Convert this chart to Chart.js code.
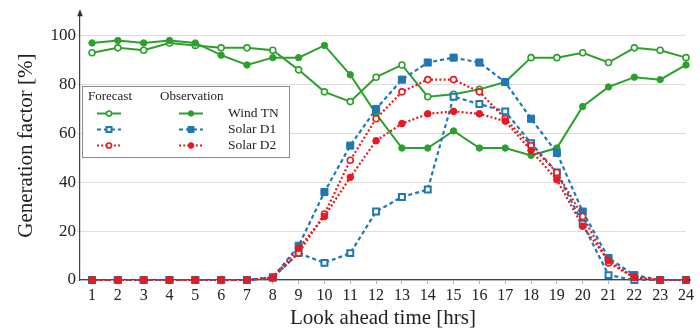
<!DOCTYPE html>
<html><head><meta charset="utf-8">
<script src="https://cdn.jsdelivr.net/npm/chart.js@4.4.1/dist/chart.umd.min.js"></script>
<style>html,body{margin:0;padding:0;background:#fff;}</style>
</head><body>
<canvas id="c" width="700" height="331" style="display:block;width:700px;height:331px"></canvas>
<script>
// ---- data ----
const hours = [1,2,3,4,5,6,7,8,9,10,11,12,13,14,15,16,17,18,19,20,21,22,23,24];
const windFc    = [93,95,94,97,96,95,95,94,86,77,73,83,88,75,76,78,81,91,91,93,89,95,94,91];
const windObs   = [97,98,97,98,97,92,88,91,91,96,84,68,54,54,61,54,54,51,54,71,79,83,82,88];
const solarD1Fc = [0,0,0,0,0,0,0,1,11,7,11,28,34,37,75,72,69,56,44,23,2,0,0,0];
const solarD1Obs= [0,0,0,0,0,0,0,1,14,36,55,70,82,89,91,89,81,66,52,28,9,2,0,0];
const solarD2Fc = [0,0,0,0,0,0,0,1,11,27,49,66,77,82,82,77,66,55,44,26,7,1,0,0];
const solarD2Obs= [0,0,0,0,0,0,0,1,13,26,42,57,64,68,69,68,65,53,41,22,8,1,0,0];
const yTickValues = [0,20,40,60,80,100];
const seriesNames = ['Wind TN','Solar D1','Solar D2'];
const legendHeaders = ['Forecast','Observation'];
const xTitle = 'Look ahead time [hrs]';
const yTitle = 'Generation factor [%]';

const GREEN='#2ca02c', BLUE='#1f77b4', RED='#e8191f';
const SERIF = "'Liberation Serif','Times New Roman',serif";
const TXT = '#222';

function pts(arr){ return hours.map((h,i)=>({x:h,y:arr[i]})); }

const styles = {
  wind: {color:GREEN, dash:[], width:2, point:'circle', rOpen:3, rFill:3.2, bwOpen:1.6, bwFill:1},
  d1:   {color:BLUE, dash:[4,3], width:2.2, point:'rect', rOpen:4.2, rFill:5, bwOpen:2, bwFill:1},
  d2:   {color:RED, dash:[2,2.2], width:2.2, point:'circle', rOpen:3, rFill:3.3, bwOpen:1.6, bwFill:1}
};

function mk(label, arr, st, open, order){
  return {
    label, data: pts(arr), order, clip:false,
    borderColor: st.color, borderWidth: st.width, borderDash: st.dash, borderCapStyle:'butt',
    pointStyle: st.point, pointRadius: open?st.rOpen:st.rFill,
    pointBorderWidth: open?st.bwOpen:st.bwFill,
    pointBackgroundColor: open?'#ffffff':st.color, pointBorderColor: st.color,
    fill:false, tension:0, _open: open, _st: st
  };
}

const datasets = [
  mk('Wind TN forecast', windFc, styles.wind, true, 6),
  mk('Wind TN observation', windObs, styles.wind, false, 5),
  mk('Solar D1 forecast', solarD1Fc, styles.d1, true, 4),
  mk('Solar D1 observation', solarD1Obs, styles.d1, false, 3),
  mk('Solar D2 forecast', solarD2Fc, styles.d2, true, 2),
  mk('Solar D2 observation', solarD2Obs, styles.d2, false, 1)
];

function drawMarker(ctx, st, open, x, y, scale){
  ctx.save();
  ctx.setLineDash([]);
  ctx.fillStyle = open ? '#fff' : st.color;
  ctx.strokeStyle = st.color;
  ctx.lineWidth = open ? st.bwOpen : st.bwFill;
  const r = (open ? st.rOpen : st.rFill) * scale;
  ctx.beginPath();
  if (st.point === 'rect') {
    const s = Math.SQRT1_2 * r;
    ctx.rect(x - s, y - s, 2*s, 2*s);
  } else {
    ctx.arc(x, y, r, 0, Math.PI*2);
  }
  ctx.fill(); ctx.stroke();
  ctx.restore();
}

function drawSample(ctx, st, open, x0, x1, y){
  ctx.save();
  ctx.strokeStyle = st.color; ctx.lineWidth = st.width;
  ctx.setLineDash(st.dash); ctx.lineCap='butt';
  ctx.beginPath(); ctx.moveTo(x0,y); ctx.lineTo(x1,y); ctx.stroke();
  ctx.restore();
  drawMarker(ctx, st, open, (x0+x1)/2, y, 0.85);
}

const decor = {
  id:'decor',
  afterDraw(chart){
    const ctx = chart.ctx, a = chart.chartArea;
    ctx.save();
    // y-axis arrow
    ctx.fillStyle = '#333';
    ctx.beginPath();
    ctx.moveTo(a.left, a.top - 2);
    ctx.lineTo(a.left - 2.8, a.top + 5);
    ctx.lineTo(a.left + 2.8, a.top + 5);
    ctx.closePath(); ctx.fill();
    // x-axis extension
    ctx.strokeStyle = '#444'; ctx.lineWidth = 1.2;
    ctx.beginPath(); ctx.moveTo(a.right, a.bottom); ctx.lineTo(a.right + 5, a.bottom); ctx.stroke();
    // legend
    const bx=82, by=86, bw=207, bh=71;
    ctx.fillStyle='#fff'; ctx.fillRect(bx,by,bw,bh);
    ctx.strokeStyle='#8c8c8c'; ctx.lineWidth=1;
    ctx.strokeRect(bx+0.5,by+0.5,bw,bh);
    ctx.fillStyle=TXT; ctx.font='13px '+SERIF; ctx.textBaseline='middle'; ctx.textAlign='left';
    ctx.fillText(legendHeaders[0], 88, 97);
    ctx.fillText(legendHeaders[1], 160, 97);
    const rowY=[113.5,129.5,145.5];
    const sts=[styles.wind, styles.d1, styles.d2];
    for(let i=0;i<3;i++){
      drawSample(ctx, sts[i], true, 97, 121, rowY[i]);
      drawSample(ctx, sts[i], false, 179, 203, rowY[i]);
      ctx.fillStyle=TXT; ctx.font='13.5px '+SERIF;
      ctx.fillText(seriesNames[i], 228, rowY[i]);
    }
    ctx.restore();
  }
};

new Chart(document.getElementById('c'), {
  type:'line',
  data:{datasets},
  plugins:[decor],
  options:{
    responsive:false, animation:false, devicePixelRatio:1,
    layout:{padding:{top:5,right:14,left:0,bottom:0}},
    plugins:{legend:{display:false}, tooltip:{enabled:false}},
    scales:{
      x:{
        type:'linear', min:0.535, max:24,
        afterBuildTicks:(ax)=>{ ax.ticks = hours.map(v=>({value:v})); },
        afterFit:(ax)=>{ ax.height = 51; },
        grid:{display:true, drawOnChartArea:false, drawTicks:true, tickLength:4, color:'#b0b0b0'},
        border:{display:true, color:'#444', width:1.2},
        ticks:{autoSkip:false, maxRotation:0, padding:2, color:TXT, font:{family:SERIF, size:16}},
        title:{display:true, text:xTitle, color:TXT, font:{family:SERIF, size:21}, padding:{top:0,bottom:0}}
      },
      y:{
        type:'linear', min:0, max:110,
        afterBuildTicks:(ax)=>{ ax.ticks = yTickValues.map(v=>({value:v})); },
        afterFit:(ax)=>{ ax.width = 80; },
        grid:{display:true, drawTicks:true, tickLength:3, color:'#dedede', lineWidth:1},
        border:{display:true, color:'#444', width:1.2},
        ticks:{padding:1, color:TXT, font:{family:SERIF, size:17}},
        title:{display:true, text:yTitle, color:TXT, font:{family:SERIF, size:21}, padding:{top:14,bottom:0}}
      }
    }
  }
});
</script>
</body></html>
